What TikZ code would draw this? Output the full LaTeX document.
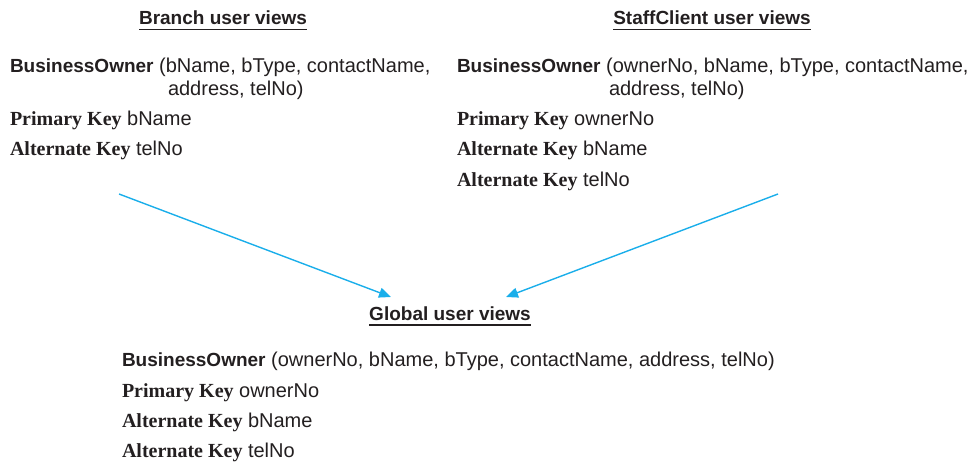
\documentclass[tikz,border=0pt]{standalone}
\usepackage{fontspec}
\setmainfont{Liberation Sans}
\newfontfamily\keyfont{Liberation Serif}
\usetikzlibrary{arrows.meta}
\definecolor{ink}{HTML}{231F20}
\definecolor{arrowcol}{HTML}{1AAEEA}
\begin{document}
\begin{tikzpicture}[x=1pt,y=-1pt,
  txt/.style={anchor=base west,inner sep=0pt,outer sep=0pt,text=ink,font=\fontsize{20}{23}\selectfont},
  ttl/.style={anchor=base,inner sep=0pt,outer sep=0pt,text=ink,font=\fontsize{19}{23}\selectfont\bfseries},
  uline/.style={draw=ink,line width=1.2pt},
  conn/.style={draw=arrowcol,line width=1.4pt,-{Triangle[length=12pt,width=10pt]}}]
\useasboundingbox (0,0) rectangle (974,462);
\newcommand{\kw}[1]{{\keyfont\bfseries #1}}
\newcommand{\bo}{{\fontsize{19}{23}\selectfont\bfseries BusinessOwner}}
% titles
\node[ttl] (t1) at (223,25) {Branch user views};
\draw[uline] ([yshift=-4.5pt]t1.base west) -- ([yshift=-4.5pt]t1.base east);
\node[ttl] (t2) at (712,25) {StaffClient user views};
\draw[uline] ([yshift=-4.5pt]t2.base west) -- ([yshift=-4.5pt]t2.base east);
\node[ttl] (t3) at (450,320) {Global user views};
\draw[uline] ([yshift=-5pt]t3.base west) -- ([yshift=-5pt]t3.base east);
% left block
\node[txt] (l1) at (10,72.5) {\bo{} (bName, bType, contactName,};
\node[txt] (l2) at (168,96) {address, telNo)};
\node[txt] (l3) at (10,125.5) {\kw{Primary Key} bName};
\node[txt] (l4) at (10,156) {\kw{Alternate Key} telNo};
% right block
\node[txt] (r1) at (457,72.5) {\bo{} (ownerNo, bName, bType, contactName,};
\node[txt] (r2) at (609,96) {address, telNo)};
\node[txt] (r3) at (457,125.5) {\kw{Primary Key} ownerNo};
\node[txt] (r4) at (457,156) {\kw{Alternate Key} bName};
\node[txt] (r5) at (457,187) {\kw{Alternate Key} telNo};
% bottom block
\node[txt] (g1) at (122,366.5) {\bo{} (ownerNo, bName, bType, contactName, address, telNo)};
\node[txt] (g2) at (122,397) {\kw{Primary Key} ownerNo};
\node[txt] (g3) at (122,427.5) {\kw{Alternate Key} bName};
\node[txt] (g4) at (122,457.5) {\kw{Alternate Key} telNo};
% arrows
\coordinate (a1s) at (119,194);
\coordinate (a1e) at (391,297);
\coordinate (a2s) at (778,194);
\coordinate (a2e) at (506,297);
\draw[conn] (a1s) -- (a1e);
\draw[conn] (a2s) -- (a2e);
\end{tikzpicture}
\end{document}
